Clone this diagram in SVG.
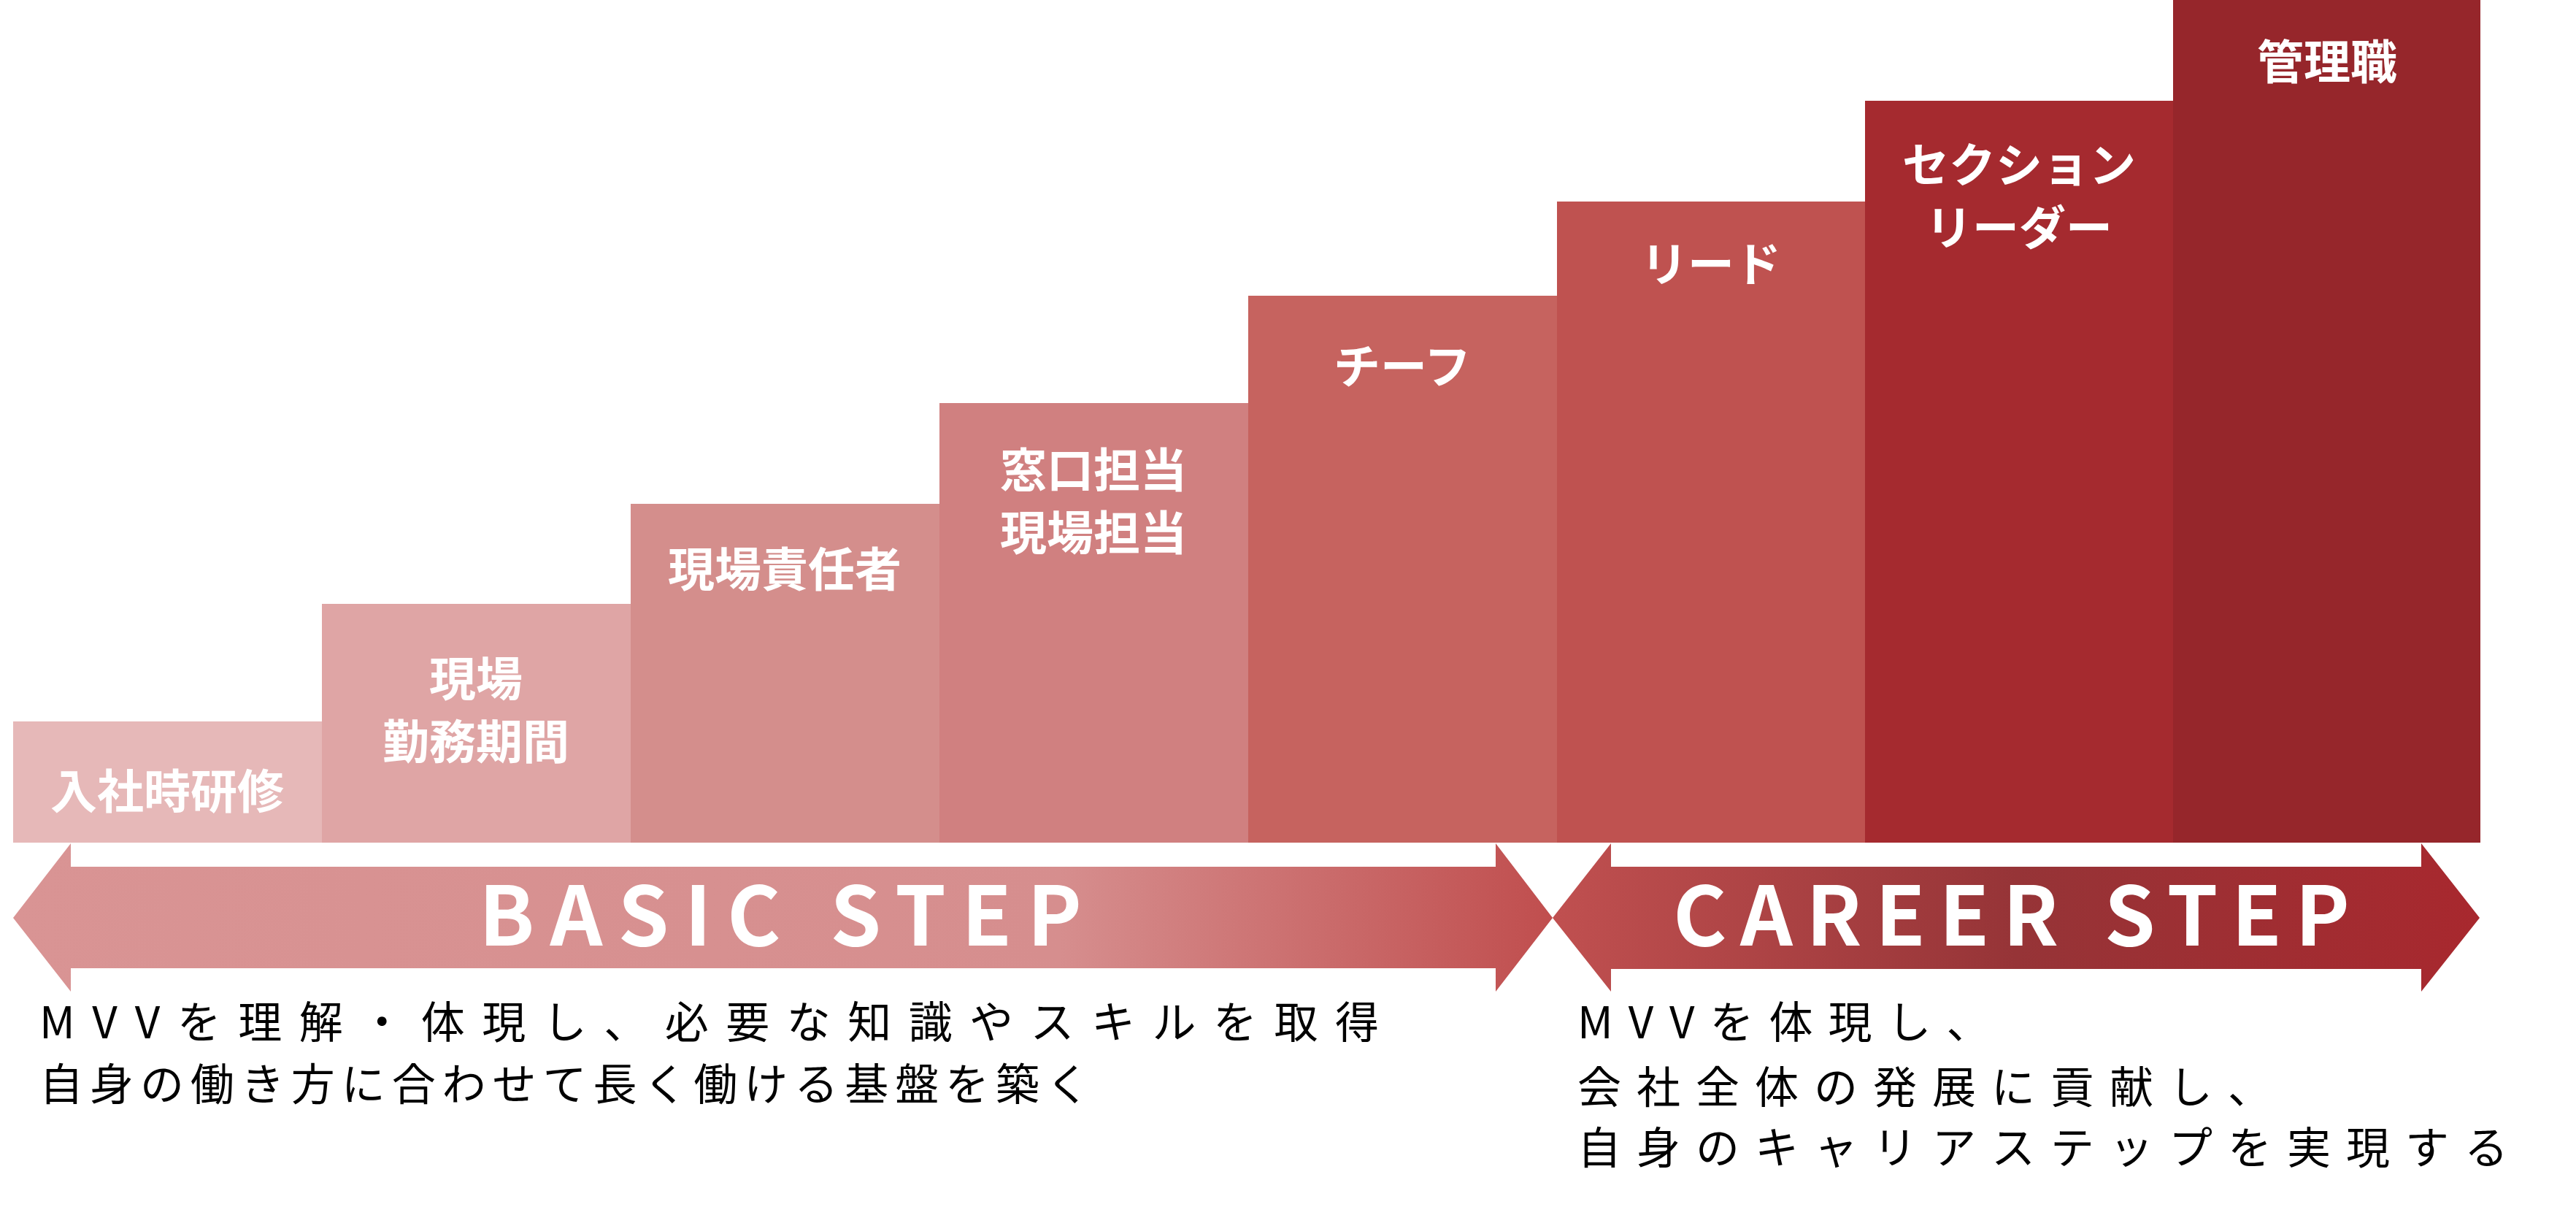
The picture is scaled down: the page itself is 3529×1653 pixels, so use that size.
<svg xmlns="http://www.w3.org/2000/svg" width="3529" height="1653" viewBox="0 0 3529 1653">
<style>
.lb{font-family:"Noto Sans CJK JP",sans-serif;font-weight:bold;font-size:64px;fill:#fff;text-anchor:middle}
.st{font-family:"Noto Sans CJK JP","DejaVu Sans",sans-serif;font-weight:bold;font-size:112px;fill:#fff}
.ds{font-family:"Noto Sans CJK JP",sans-serif;font-size:60px;fill:#000}
</style>
<defs>
<linearGradient id="gb" gradientUnits="userSpaceOnUse" x1="18" y1="0" x2="2127" y2="0">
<stop offset="0" stop-color="#d99494"/><stop offset="0.68" stop-color="#d68e8e"/><stop offset="1" stop-color="#c04e4e"/>
</linearGradient>
<linearGradient id="gc" gradientUnits="userSpaceOnUse" x1="2127" y1="0" x2="3397" y2="0">
<stop offset="0" stop-color="#c05050"/><stop offset="0.5" stop-color="#963437"/><stop offset="1" stop-color="#a8282e"/>
</linearGradient>
</defs>
<g id="bar1"><rect x="18" y="988" width="423" height="166" fill="#e6b8b8"/><text class="lb" x="229" y="1107">入社時研修</text></g>
<g id="bar2"><rect x="441" y="827" width="423" height="327" fill="#dfa5a5"/><text class="lb" x="652" y="953">現場</text><text class="lb" x="652" y="1039">勤務期間</text></g>
<g id="bar3"><rect x="864" y="690" width="423" height="464" fill="#d48e8c"/><text class="lb" x="1075" y="803">現場責任者</text></g>
<g id="bar4"><rect x="1287" y="552" width="423" height="602" fill="#d08080"/><text class="lb" x="1498" y="667">窓口担当</text><text class="lb" x="1498" y="753">現場担当</text></g>
<g id="bar5"><rect x="1710" y="405" width="423" height="749" fill="#c6635f"/><text class="lb" x="1921" y="525">チーフ</text></g>
<g id="bar6"><rect x="2133" y="276" width="422" height="878" fill="#bf5250"/><text class="lb" x="2344" y="385">リード</text></g>
<g id="bar7"><rect x="2555" y="138" width="422" height="1016" fill="#a52a2f"/><text class="lb" x="2766" y="249">セクション</text><text class="lb" x="2766" y="335">リーダー</text></g>
<g id="bar8"><rect x="2977" y="0" width="421" height="1154" fill="#96262b"/><text class="lb" x="3188" y="108">管理職</text></g>
<g id="arrows">
<polygon points="18,1257 97,1155 97,1187 2049,1187 2049,1155 2127,1257 2049,1358 2049,1326 97,1326 97,1358" fill="url(#gb)"/>
<polygon points="2127,1257 2207,1155 2207,1187 3317,1187 3317,1155 3397,1257 3317,1358 3317,1327 2207,1327 2207,1358" fill="url(#gc)"/>
</g>
<text class="st" x="656" y="1295" textLength="826" lengthAdjust="spacing">BASIC STEP</text>
<text class="st" x="2292" y="1295" textLength="927" lengthAdjust="spacing">CAREER STEP</text>
<text class="ds" x="54" y="1422" textLength="1835" lengthAdjust="spacing">MVVを理解・体現し、必要な知識やスキルを取得</text>
<text class="ds" x="54" y="1507" textLength="1439" lengthAdjust="spacing">自身の働き方に合わせて長く働ける基盤を築く</text>
<text class="ds" x="2161" y="1422" letter-spacing="21">MVVを体現し、</text>
<text class="ds" x="2161" y="1511" letter-spacing="21">会社全体の発展に貢献し、</text>
<text class="ds" x="2161" y="1594" letter-spacing="21">自身のキャリアステップを実現する</text>
</svg>
